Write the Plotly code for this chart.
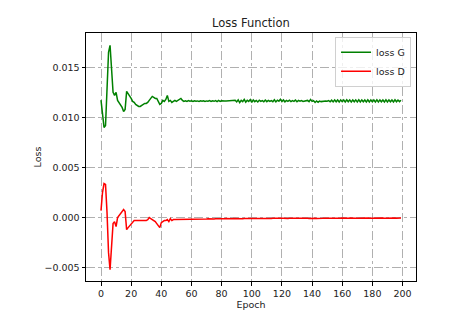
import plotly.graph_objects as go

# epochs
epochs = list(range(200))

# generator loss
loss_g = [
    0.01173, 0.0105, 0.0090, 0.0092, 0.0135, 0.0165, 0.0172, 0.0150, 0.0125, 0.0122,
    0.0125, 0.0117, 0.0115, 0.0113, 0.0110, 0.0106, 0.0108, 0.0126, 0.0124, 0.0122,
    0.0119, 0.0116, 0.0115, 0.0113, 0.0112, 0.0111, 0.0111, 0.0112, 0.0113, 0.0114,
    0.0114, 0.0115, 0.0117, 0.0119, 0.0121, 0.0120, 0.0119, 0.0119, 0.0116, 0.0113,
    0.0114, 0.0117, 0.0116, 0.0118, 0.0122, 0.0116, 0.0117, 0.0115, 0.0116, 0.0117,
    0.0116, 0.0117, 0.0118, 0.0119, 0.0117, 0.0116,
    0.01165, 0.01160, 0.01168, 0.01162, 0.01166, 0.01160, 0.01167, 0.01161, 0.01165, 0.01160,
    0.01166, 0.01161, 0.01167, 0.01160, 0.01165, 0.01162, 0.01168, 0.01160, 0.01166, 0.01161,
    0.01168, 0.01158, 0.01170, 0.01160, 0.01166, 0.01162, 0.01165, 0.01163, 0.01164, 0.01163,
    0.01165, 0.01163, 0.01164, 0.01172, 0.01155, 0.01175, 0.01148, 0.01170, 0.01158, 0.01180,
    0.01152, 0.01172, 0.01160, 0.01178, 0.01150, 0.01175, 0.01158, 0.01170, 0.01155, 0.01172,
    0.01160, 0.01168, 0.01156, 0.01174, 0.01158, 0.01170, 0.01160, 0.01168, 0.01157, 0.01176,
    0.01155, 0.01172, 0.01162, 0.01182, 0.01158, 0.01175, 0.01156, 0.01170, 0.01160, 0.01172,
    0.01158, 0.01168, 0.01160, 0.01174, 0.01157, 0.01170, 0.01162, 0.01168, 0.01160, 0.01166,
    0.01164, 0.01170, 0.01158, 0.01180, 0.01160, 0.01168, 0.01150, 0.01165, 0.01152, 0.01163,
    0.01158, 0.01162, 0.01160, 0.01165, 0.01162, 0.01168, 0.01156, 0.01172, 0.01155, 0.01175,
    0.01156, 0.01174, 0.01155, 0.01175, 0.01157, 0.01174, 0.01155, 0.01176, 0.01156, 0.01175,
    0.01155, 0.01174, 0.01156, 0.01175, 0.01155, 0.01176, 0.01154, 0.01175, 0.01156, 0.01174,
    0.01155, 0.01176, 0.01154, 0.01175, 0.01156, 0.01174, 0.01155, 0.01176, 0.01155, 0.01175,
    0.01156, 0.01174, 0.01155, 0.01176, 0.01154, 0.01175, 0.01156, 0.01174, 0.01155, 0.01176,
    0.01156, 0.01174, 0.01158, 0.01172,
]

# discriminator loss
loss_d = [
    0.0007, 0.0025, 0.0034, 0.0033, 0.0005, -0.0035, -0.0052, -0.0030, -0.0006, -0.0004,
    -0.0009, 0.0000, 0.0002, 0.0004, 0.0005, 0.0008, 0.0006, -0.0012, -0.0010, -0.0008,
    -0.0006, -0.0004, -0.0003, -0.0003, -0.0003, -0.0003, -0.0003, -0.00025, -0.0003, -0.00025,
    -0.0003, -0.0002, 0.0000, -0.0001, -0.0002, -0.0003, -0.0004, -0.0006, -0.0008, -0.0010,
    -0.0005, -0.0004, -0.0003, -0.0003, -0.0002, -0.0004, -0.0001, -0.0003, -0.0002, -0.0002,
    -0.0002, -0.00018, -0.0002, -0.00018, -0.00017, -0.00018,
    -0.00017, -0.00016, -0.00018, -0.00015, -0.00016, -0.00014, -0.00016, -0.00015, -0.00014, -0.00016,
    -0.00014, -0.00015, -0.00013, -0.00015, -0.00014, -0.00012, -0.00014, -0.00013, -0.00012, -0.00014,
    -0.00012, -0.00013, -0.00011, -0.00013, -0.00012, -0.00011, -0.00012, -0.00010, -0.00012, -0.00011,
    -0.00010, -0.00012, -0.00010, -0.00011, -0.00009, -0.00011, -0.00010, -0.00009, -0.00011, -0.00009,
    -0.00010, -0.00008, -0.00010, -0.00009, -0.00008, -0.00009, -0.00008, -0.00010, -0.00008, -0.00009,
    -0.00008, -0.00009, -0.00007, -0.00009, -0.00008, -0.00007, -0.00009, -0.00008, -0.00007, -0.00008,
    -0.00007, -0.00009, -0.00007, -0.00008, -0.00007, -0.00006, -0.00008, -0.00007, -0.00008, -0.00006,
    -0.00007, -0.00008, -0.00006, -0.00007, -0.00008, -0.00006, -0.00007, -0.00006, -0.00008, -0.00007,
    -0.00006, -0.00007, -0.00008, -0.00006, -0.00007, -0.00006, -0.00007, -0.00008, -0.00006, -0.00007,
    -0.00006, -0.00007, -0.00006, -0.00008, -0.00006, -0.00007, -0.00006, -0.00007, -0.00006, -0.00007,
    -0.00006, -0.00007, -0.00006, -0.00007, -0.00005, -0.00007, -0.00006, -0.00007, -0.00006, -0.00005,
    -0.00007, -0.00006, -0.00005, -0.00007, -0.00006, -0.00005, -0.00006, -0.00007, -0.00005, -0.00006,
    -0.00006, -0.00005, -0.00007, -0.00006, -0.00005, -0.00006, -0.00005, -0.00007, -0.00006, -0.00005,
    -0.00006, -0.00005, -0.00006, -0.00005, -0.00007, -0.00005, -0.00006, -0.00005, -0.00006, -0.00005,
    -0.00006, -0.00005, -0.00006, -0.00005,
]

x_ticks = [0, 20, 40, 60, 80, 100, 120, 140, 160, 180, 200]
y_ticks = [-0.005, 0.0, 0.005, 0.010, 0.015]

fig = go.Figure()
fig.add_trace(go.Scatter(x=epochs, y=loss_g, mode='lines', name='loss G',
                         line=dict(color='green', width=1.5)))
fig.add_trace(go.Scatter(x=epochs, y=loss_d, mode='lines', name='loss D',
                         line=dict(color='red', width=1.5)))

axis_common = dict(showline=True, linecolor='black', linewidth=1, mirror=True,
                   ticks='outside', ticklen=3.5, tickcolor='black',
                   showgrid=True, gridcolor='#b0b0b0', griddash='dashdot', gridwidth=1,
                   zeroline=False, tickfont=dict(size=9.5, color='#222'))

fig.update_layout(
    width=453, height=321,
    margin=dict(l=86, r=37, t=33, b=40),
    paper_bgcolor='white', plot_bgcolor='white',
    font=dict(family='DejaVu Sans', size=9.5, color='#222'),
    title=dict(text='Loss Function', x=0.5, xref='paper', xanchor='center',
               y=1 - 23 / 321, yanchor='middle', font=dict(size=11.5)),
    xaxis=dict(range=[-9.95, 208.95], tickvals=x_ticks,
               title=dict(text='Epoch', standoff=1, font=dict(size=9.5)), **axis_common),
    yaxis=dict(range=[-0.00633, 0.01843], tickvals=y_ticks, tickformat='.3f',
               title=dict(text='Loss', standoff=1, font=dict(size=9.5)), **axis_common),
    legend=dict(x=0.985, y=0.985, xanchor='right', yanchor='top',
                bgcolor='rgba(255,255,255,0.8)', bordercolor='#d0d0d0', borderwidth=1,
                font=dict(size=9.5), itemwidth=30, tracegroupgap=0),
    showlegend=True,
)

# the page's default body margin would shift the chart by 8px
fig.write_html("out.html", config={'displayModeBar': False},
               post_script="document.body.style.margin='0';")
